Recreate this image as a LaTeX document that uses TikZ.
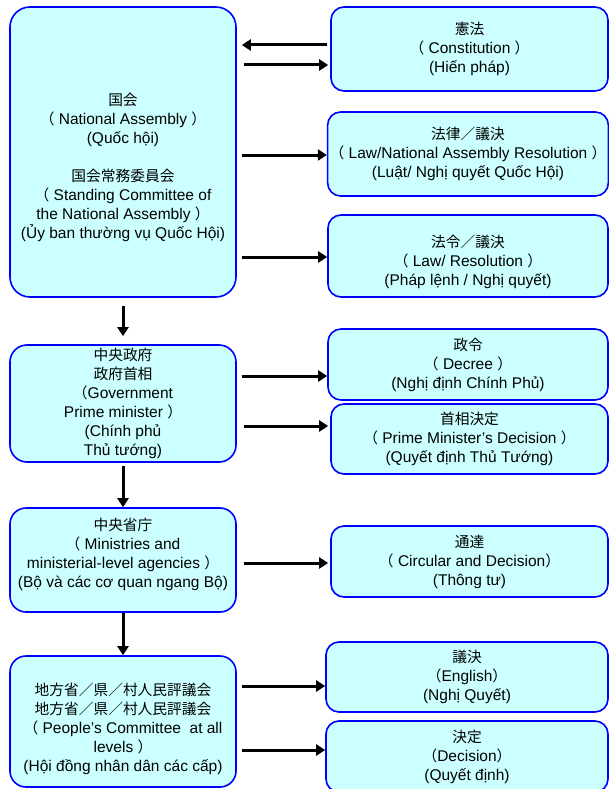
\documentclass[tikz,border=0pt]{standalone}
\usepackage{fontspec}
\setmainfont{Liberation Sans}
\newfontfamily\cjkfont[Scale=0.95]{Noto Sans CJK JP}
\newcommand{\jp}[1]{{\cjkfont #1}}
\definecolor{boxfill}{HTML}{CCFFFF}
\usetikzlibrary{arrows.meta}

\begin{document}
\begin{tikzpicture}[x=1pt,y=-1pt,
	box/.style={draw=blue,line width=1.6pt,fill=boxfill,rounded corners=13pt,align=center,inner sep=2pt,font=\fontsize{15.5}{19}\selectfont},
	lbox/.style={box,minimum width=226pt},
	rbox/.style={box,minimum width=280pt},
	arr/.style={line width=3pt,-{Triangle[length=9pt,width=11pt]}}]
	\useasboundingbox (0,0) rectangle (609,789);
	% left column
	\node[lbox,minimum height=290pt,rounded corners=20pt] (na) at (123,152) {\rule{0pt}{0pt}\\[24pt]\jp{国会}\\\jp{（} National Assembly \jp{）}\\(Quốc hội)\\[19pt]\jp{国会常務委員会}\\\jp{（} Standing Committee of\\the National Assembly \jp{）}\\(Ủy ban thường vụ Quốc Hội)};
	\node[lbox,minimum height=117pt,rounded corners=17pt] (gov) at (123,403.5) {\jp{中央政府}\\\jp{政府首相}\\\jp{（}Government\\Prime minister \jp{）}\\(Chính phủ\\Thủ tướng)};
	\node[lbox,minimum height=104pt,rounded corners=16pt] (mst) at (123,560) {\jp{中央省庁}\\\jp{（} Ministries and\\ministerial-level agencies \jp{）}\\(Bộ và các cơ quan ngang Bộ)\\[-4pt]\rule{0pt}{0pt}};
	\node[lbox,minimum height=131pt,rounded corners=16pt] (ppl) at (123,721.5) {\rule{0pt}{0pt}\\[8pt]\jp{地方省／県／村人民評議会}\\\jp{地方省／県／村人民評議会}\\\jp{（} People’s Committee~ at all\\levels \jp{）}\\(Hội đồng nhân dân các cấp)};
	% right column
	\node[rbox,minimum width=277pt,minimum height=84pt] (con) at (469.5,49) {\jp{憲法}\\\jp{（} Constitution \jp{）}\\(Hiến pháp)};
	\node[rbox,minimum height=84pt] (law) at (468,154) {\jp{法律／議決}\\\jp{（} Law/National Assembly Resolution \jp{）}\\(Luật/ Nghị quyết Quốc Hội)};
	\node[rbox,minimum height=82pt] (lrs) at (468,256) {\rule{0pt}{0pt}\\[6pt]\jp{法令／議決}\\\jp{（} Law/ Resolution \jp{）}\\(Pháp lệnh / Nghị quyết)};
	\node[rbox,minimum height=71pt] (dec) at (468,364.5) {\jp{政令}\\\jp{（} Decree \jp{）}\\(Nghị định Chính Phủ)};
	\node[rbox,minimum width=277pt,minimum height=70pt] (pmd) at (469.5,439) {\jp{首相決定}\\\jp{（} Prime Minister\symbol{39}s Decision \jp{）}\\(Quyết định Thủ Tướng)};
	\node[rbox,minimum width=277pt,minimum height=71pt] (cir) at (469.5,561.5) {\jp{通達}\\\jp{（} Circular and Decision\jp{）}\\(Thông tư)};
	\node[rbox,minimum width=282pt,minimum height=70pt] (res) at (467,677) {\jp{議決}\\\jp{（}English\jp{）}\\(Nghị Quyết)};
	\node[rbox,minimum width=282pt,minimum height=71pt] (dcs) at (467,756.5) {\jp{決定}\\\jp{（}Decision\jp{）}\\(Quyết định)};
	% arrows
	\draw[arr,shorten <=3pt,shorten >=5pt] (con.west |- 0,45) -- (na.east |- 0,45);
	\draw[arr,shorten <=7pt,shorten >=2pt] (na.east |- 0,65) -- (con.west |- 0,65);
	\draw[arr,shorten <=5pt] (na.east |- 0,155) -- (law.west |- 0,155);
	\draw[arr,shorten <=5pt] (na.east |- 0,257) -- (lrs.west |- 0,257);
	\draw[arr,shorten <=8pt,shorten >=8pt] (na.south) -- (gov.north);
	\draw[arr,shorten <=5pt] (gov.east |- 0,376) -- (dec.west |- 0,376);
	\draw[arr,shorten <=7pt,shorten >=2pt] (gov.east |- 0,426) -- (pmd.west |- 0,426);
	\draw[arr,shorten <=3pt] (gov.south) -- (mst.north);
	\draw[arr,shorten <=7pt,shorten >=2pt] (mst.east |- 0,563) -- (cir.west |- 0,563);
	\draw[arr] (mst.south) -- (ppl.north);
	\draw[arr,shorten <=5pt] (ppl.east |- 0,686) -- (res.west |- 0,686);
	\draw[arr,shorten <=5pt] (ppl.east |- 0,750) -- (dcs.west |- 0,750);
\end{tikzpicture}
\end{document}
